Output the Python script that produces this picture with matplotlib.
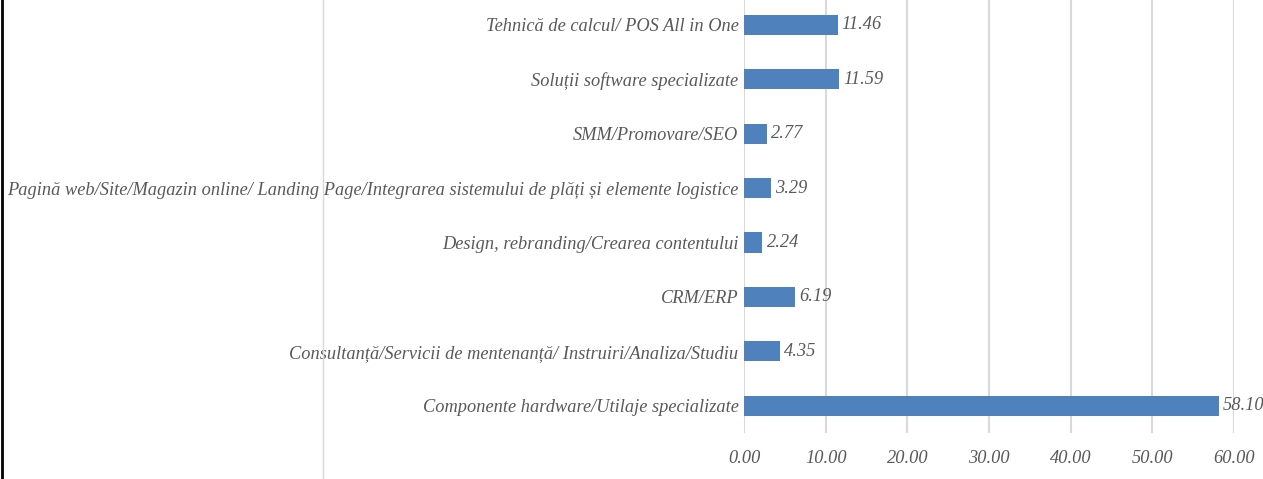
import matplotlib
matplotlib.use('Agg')
import matplotlib.pyplot as plt
from matplotlib.lines import Line2D

# Datos (de abajo hacia arriba)
categorias = [
    'Componente hardware/Utilaje specializate',
    'Consultanță/Servicii de mentenanță/ Instruiri/Analiza/Studiu',
    'CRM/ERP',
    'Design, rebranding/Crearea contentului',
    'Pagină web/Site/Magazin online/ Landing Page/Integrarea sistemului de plăți și elemente logistice',
    'SMM/Promovare/SEO',
    'Soluții software specializate',
    'Tehnică de calcul/ POS All in One',
]
valores = [58.10, 4.35, 6.19, 2.24, 3.29, 2.77, 11.59, 11.46]
ticks_x = [0, 10, 20, 30, 40, 50, 60]

plt.rcParams['font.family'] = ['Liberation Serif', 'DejaVu Serif']
color_texto = '#595959'
fs = 13.2

fig = plt.figure(figsize=(12.63, 4.79), dpi=100)
ax = fig.add_axes([0.5891, 0.0960, 0.3880, 0.9088])

pos = list(range(len(categorias)))
ax.barh(pos, valores, height=0.37, color='#4F81BD', zorder=3)

for y, v in zip(pos, valores):
    ax.annotate(f'{v:.2f}', (v, y), xytext=(3, 0), textcoords='offset points',
                ha='left', va='center', fontsize=fs, style='italic',
                color=color_texto, zorder=4, annotation_clip=False)

ax.set_xlim(0, 60)
ax.set_ylim(-0.5, len(categorias) - 0.5)
ax.set_xticks(ticks_x)
ax.set_xticklabels([f'{t:.2f}' for t in ticks_x], fontsize=fs, style='italic',
                   color=color_texto)
ax.set_yticks(pos)
ax.set_yticklabels(categorias, fontsize=fs, style='italic', color=color_texto)
ax.tick_params(length=0, pad=4)
ax.tick_params(axis='x', pad=12)
ax.grid(axis='x', color='#D9D9D9', linewidth=1.5, zorder=0)
for s in ax.spines.values():
    s.set_visible(False)

# Líneas de borde de la página
fig.add_artist(Line2D([2 / 1263, 2 / 1263], [0, 1], color='black', linewidth=2))
fig.add_artist(Line2D([322.5 / 1263, 322.5 / 1263], [0, 1], color='#D9D9D9', linewidth=1))

fig.savefig('out.png', dpi=100)
